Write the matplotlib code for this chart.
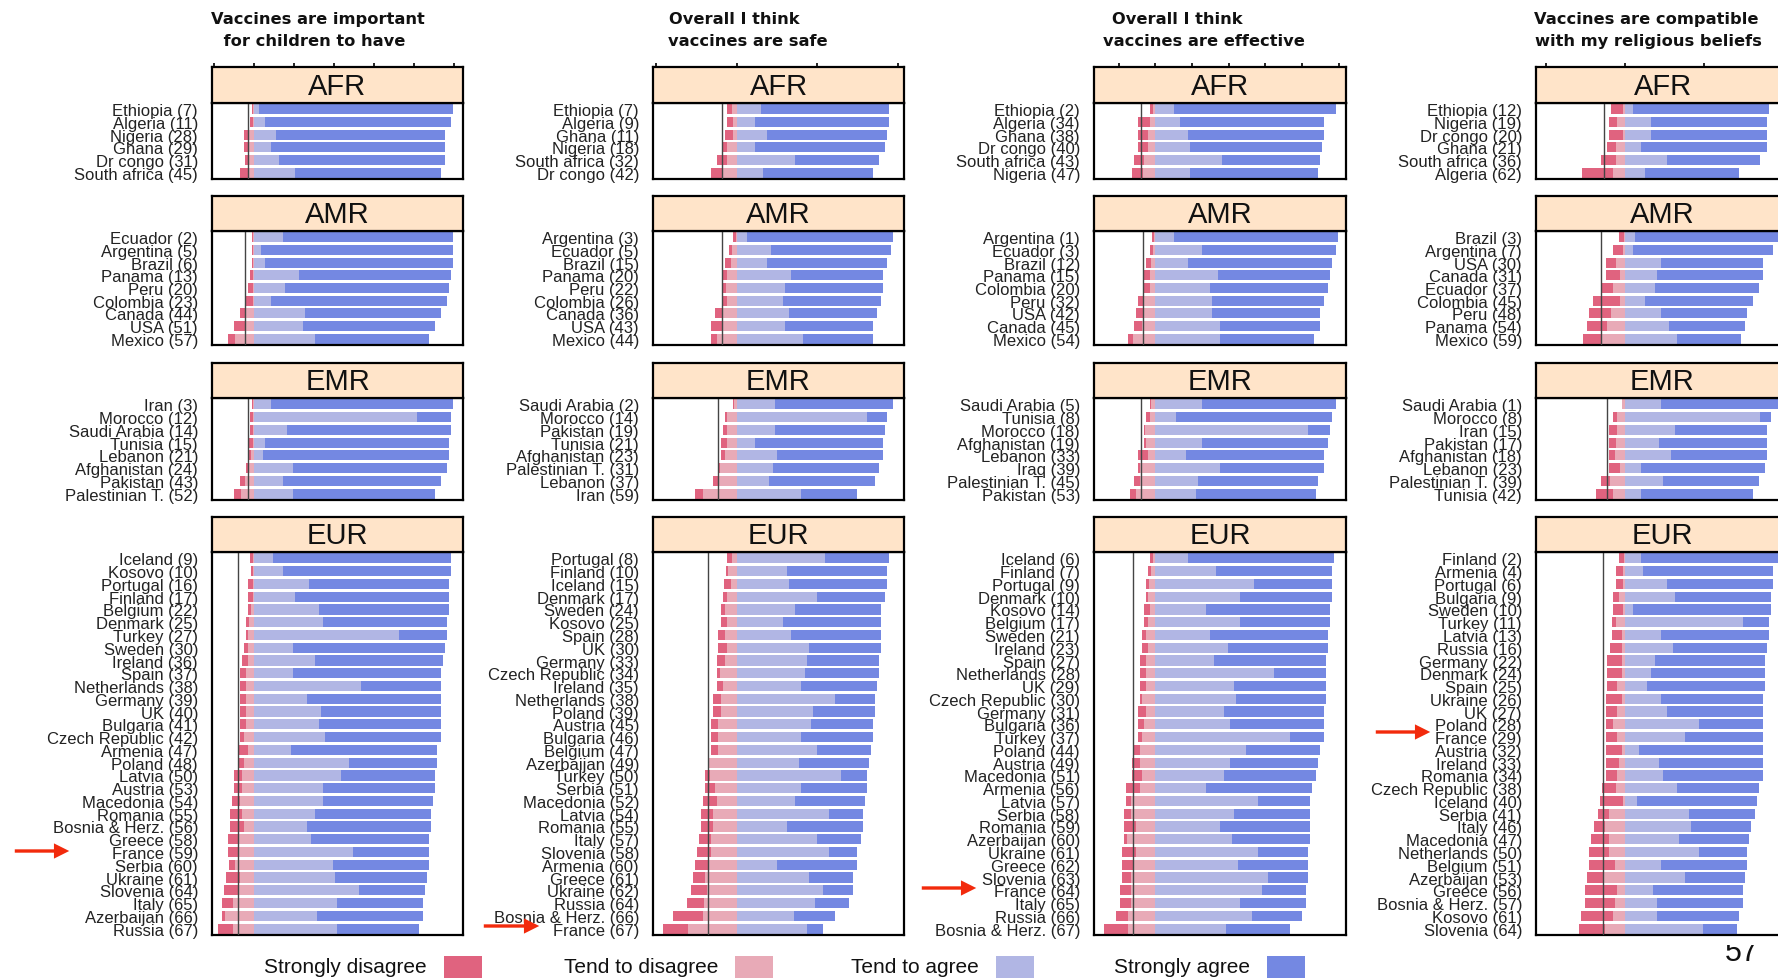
import numpy as np
import matplotlib.pyplot as plt
from matplotlib.patches import Rectangle, FancyArrowPatch

plt.rcParams['font.family'] = ['Liberation Sans', 'DejaVu Sans']

W, H = 1778, 979

questions = [["Vaccines are important", " for children to have"],
             ["Overall I think", "vaccines are safe"],
             ["Overall I think", "vaccines are effective"],
             ["Vaccines are compatible", "with my religious beliefs"]]
regions = ["AFR", "AMR", "EMR", "EUR"]
categories = ["Strongly disagree", "Tend to disagree", "Tend to agree", "Strongly agree"]
colors = ["#E0637F", "#E8AAB7", "#B1B6E4", "#7488E2"]

# ---- Vaccines are important for children ----
c1_afr_lab = ["Ethiopia (7)", "Algeria (11)", "Nigeria (28)", "Ghana (29)", "Dr congo (31)", "South africa (45)"]
c1_afr_sd = [0.6, 1.2, 2.2, 1.7, 2.0, 3.8]
c1_afr_td = [0.3, 0.7, 2.6, 3.1, 2.6, 3.1]
c1_afr_ta = [2.4, 5.3, 11.1, 8.4, 12.4, 20.3]
c1_afr_sa = [97.0, 93.3, 84.5, 87.2, 83.2, 73.3]

c1_amr_lab = ["Ecuador (2)", "Argentina (5)", "Brazil (6)", "Panama (13)", "Peru (20)", "Colombia (23)",
              "Canada (44)", "USA (51)", "Mexico (57)"]
c1_amr_sd = [0.6, 0.6, 0.6, 1.4, 2.3, 3.3, 2.9, 5.9, 3.4]
c1_amr_td = [0.3, 0.3, 0.3, 0.5, 0.6, 0.6, 3.9, 3.9, 9.4]
c1_amr_ta = [14.4, 3.3, 5.3, 22.4, 15.4, 8.4, 25.4, 24.4, 30.4]
c1_amr_sa = [85.0, 96.2, 94.2, 76.2, 82.2, 88.2, 68.2, 66.2, 57.2]

c1_emr_lab = ["Iran (3)", "Morocco (12)", "Saudi Arabia (14)", "Tunisia (15)", "Lebanon (21)",
              "Afghanistan (24)", "Pakistan (43)", "Palestinian T. (52)"]
c1_emr_sd = [0.6, 1.4, 1.4, 2.3, 1.7, 1.7, 2.5, 3.4]
c1_emr_td = [0.3, 0.5, 0.5, 0.6, 1.3, 2.3, 4.3, 6.4]
c1_emr_ta = [8.4, 81.6, 16.3, 5.3, 4.3, 19.3, 14.4, 19.3]
c1_emr_sa = [91.0, 17.0, 82.3, 92.3, 93.3, 77.3, 79.2, 71.3]

c1_eur_lab = ["Iceland (9)", "Kosovo (10)", "Portugal (16)", "Finland (17)", "Belgium (22)", "Denmark (25)",
              "Turkey (27)", "Sweden (30)", "Ireland (36)", "Spain (37)", "Netherlands (38)", "Germany (39)",
              "UK (40)", "Bulgaria (41)", "Czech Republic (42)", "Armenia (47)", "Poland (48)", "Latvia (50)",
              "Austria (53)", "Macedonia (54)", "Romania (55)", "Bosnia & Herz. (56)", "Greece (58)",
              "France (59)", "Serbia (60)", "Ukraine (61)", "Slovenia (64)", "Italy (65)", "Azerbaijan (66)",
              "Russia (67)"]
c1_eur_sd = [1.6, 1.0, 2.3, 2.3, 1.5, 1.4, 1.0, 2.0, 2.9, 3.0, 3.0, 3.0, 3.0, 3.0, 2.0, 5.0, 3.2, 3.7, 3.8,
             3.9, 5.9, 7.0, 4.9, 4.9, 3.3, 6.9, 6.9, 5.2, 1.4, 7.2]
c1_eur_td = [0.3, 0.4, 0.6, 0.6, 1.4, 2.6, 2.9, 2.9, 2.9, 3.8, 3.8, 3.8, 3.8, 3.8, 4.8, 2.9, 4.8, 6.1, 6.0,
             6.9, 5.9, 4.8, 7.9, 7.9, 9.4, 6.9, 7.9, 10.6, 14.4, 10.6]
c1_eur_ta = [9.4, 14.4, 27.4, 20.4, 32.4, 34.4, 72.4, 19.3, 30.4, 19.3, 53.4, 26.3, 33.4, 32.4, 35.4, 18.3,
             47.4, 43.4, 34.4, 34.4, 30.4, 26.3, 28.4, 49.4, 39.4, 40.4, 52.4, 41.4, 31.4, 41.4]
c1_eur_sa = [89.2, 84.2, 70.2, 77.2, 65.2, 62.2, 24.2, 76.3, 64.2, 74.3, 40.2, 67.3, 60.2, 61.2, 58.2, 73.3,
             44.2, 47.2, 56.2, 55.2, 58.2, 62.3, 59.2, 38.2, 48.2, 46.2, 33.2, 43.2, 53.2, 41.2]

# ---- Overall I think vaccines are safe ----
c2_afr_lab = ["Ethiopia (7)", "Algeria (9)", "Ghana (11)", "Nigeria (18)", "South africa (32)", "Dr congo (42)"]
c2_afr_sd = [2.7, 3.7, 5.2, 2.9, 6.2, 6.9]
c2_afr_td = [3.0, 2.0, 2.0, 5.7, 6.1, 9.2]
c2_afr_ta = [15.0, 11.5, 18.8, 11.5, 36.0, 16.3]
c2_afr_sa = [79.9, 83.4, 74.7, 80.9, 52.7, 68.5]

c2_amr_lab = ["Argentina (3)", "Ecuador (5)", "Brazil (15)", "Panama (20)", "Peru (22)", "Colombia (26)",
              "Canada (36)", "USA (43)", "Mexico (44)"]
c2_amr_sd = [1.5, 1.5, 3.6, 2.5, 2.7, 3.1, 4.2, 6.9, 3.8]
c2_amr_td = [0.5, 3.0, 3.6, 6.1, 6.5, 6.1, 9.2, 9.2, 12.3]
c2_amr_ta = [6.3, 21.3, 18.8, 33.9, 30.2, 28.7, 32.7, 30.2, 41.2]
c2_amr_sa = [90.9, 74.7, 74.7, 57.1, 60.8, 61.0, 54.5, 54.6, 43.6]

c2_emr_lab = ["Saudi Arabia (2)", "Morocco (14)", "Pakistan (19)", "Tunisia (21)", "Afghanistan (23)",
              "Palestinian T. (31)", "Lebanon (37)", "Iran (59)"]
c2_emr_sd = [0.5, 1.5, 2.5, 3.8, 2.7, 1.6, 4.1, 4.7]
c2_emr_td = [1.5, 5.7, 6.1, 6.1, 7.2, 10.3, 10.7, 21.1]
c2_emr_ta = [24.0, 81.0, 24.0, 11.5, 25.0, 22.5, 20.4, 39.9]
c2_emr_sa = [73.2, 12.5, 68.4, 79.5, 66.0, 66.2, 65.8, 34.9]

c2_eur_lab = ["Portugal (8)", "Finland (10)", "Iceland (15)", "Denmark (17)", "Sweden (24)", "Kosovo (25)",
              "Spain (28)", "UK (30)", "Germany (33)", "Czech Republic (34)", "Ireland (35)", "Netherlands (38)",
              "Poland (39)", "Austria (45)", "Bulgaria (46)", "Belgium (47)", "Azerbaijan (49)", "Turkey (50)",
              "Serbia (51)", "Macedonia (52)", "Latvia (54)", "Romania (55)", "Italy (57)", "Slovenia (58)",
              "Armenia (60)", "Greece (61)", "Ukraine (62)", "Russia (64)", "Bosnia & Herz. (66)", "France (67)"]
c2_eur_sd = [3.1, 1.4, 4.2, 2.5, 2.7, 3.8, 4.1, 5.2, 5.1, 2.0, 3.7, 4.9, 4.9, 4.8, 4.8, 4.8, 0.3, 3.1, 6.2,
             8.8, 7.5, 7.5, 7.5, 8.7, 8.3, 7.7, 9.9, 10.4, 18.6, 15.9]
c2_eur_td = [3.0, 5.1, 3.6, 6.1, 7.2, 6.1, 7.2, 6.1, 7.2, 10.3, 8.6, 9.9, 9.9, 11.3, 11.3, 11.3, 17.6, 16.5,
             13.4, 12.3, 14.8, 14.8, 16.1, 16.1, 17.5, 19.6, 18.6, 20.6, 21.1, 30.0]
c2_eur_ta = [55.1, 31.2, 32.7, 49.9, 36.0, 28.7, 33.9, 44.9, 43.7, 42.6, 39.9, 61.3, 47.4, 46.2, 39.9, 49.9,
             38.7, 65.0, 39.9, 36.0, 57.2, 31.2, 49.9, 57.2, 25.0, 44.9, 53.6, 48.7, 35.4, 43.7]
c2_eur_sa = [39.8, 62.3, 60.8, 42.5, 53.7, 61.0, 55.8, 44.8, 44.8, 45.9, 47.3, 24.7, 38.6, 38.6, 44.9, 33.6,
             43.6, 16.0, 41.1, 43.8, 21.3, 47.3, 27.4, 17.6, 49.8, 27.4, 18.7, 21.1, 25.7, 9.9]

# ---- Overall I think vaccines are effective ----
c3_afr_lab = ["Ethiopia (2)", "Algeria (34)", "Ghana (38)", "Dr congo (40)", "South africa (43)", "Nigeria (47)"]
c3_afr_sd = [1.5, 6.7, 5.5, 5.5, 5.4, 6.4]
c3_afr_td = [1.5, 3.0, 3.9, 3.9, 6.3, 6.6]
c3_afr_ta = [10.1, 13.4, 17.9, 18.8, 36.5, 18.8]
c3_afr_sa = [88.7, 78.7, 74.2, 72.2, 53.2, 70.0]

c3_amr_lab = ["Argentina (1)", "Ecuador (3)", "Brazil (12)", "Panama (15)", "Colombia (20)", "Peru (32)",
              "USA (42)", "Canada (45)", "Mexico (54)"]
c3_amr_sd = [1.0, 1.5, 2.6, 3.3, 3.6, 2.8, 4.0, 4.2, 3.1]
c3_amr_td = [0.9, 1.5, 2.6, 3.0, 3.0, 6.6, 6.6, 7.5, 12.1]
c3_amr_ta = [10.1, 25.5, 17.9, 34.3, 29.7, 30.8, 30.8, 35.2, 35.2]
c3_amr_sa = [89.6, 73.1, 78.6, 61.1, 64.6, 61.3, 59.1, 54.7, 51.4]

c3_emr_lab = ["Saudi Arabia (5)", "Tunisia (8)", "Morocco (18)", "Afghanistan (19)", "Lebanon (33)",
              "Iraq (39)", "Palestinian T. (45)", "Pakistan (53)"]
c3_emr_sd = [0.4, 2.2, 0.6, 1.1, 5.4, 1.2, 3.2, 3.4]
c3_emr_td = [2.6, 3.0, 5.7, 5.2, 4.3, 8.5, 8.5, 10.5]
c3_emr_ta = [25.2, 11.2, 83.4, 25.2, 16.6, 35.2, 23.4, 22.1]
c3_emr_sa = [73.4, 85.3, 12.0, 69.1, 75.5, 56.9, 65.4, 65.6]

c3_eur_lab = ["Iceland (6)", "Finland (7)", "Portugal (9)", "Denmark (10)", "Kosovo (14)", "Belgium (17)",
              "Sweden (21)", "Ireland (23)", "Spain (27)", "Netherlands (28)", "UK (29)", "Czech Republic (30)",
              "Germany (31)", "Bulgaria (36)", "Turkey (37)", "Poland (44)", "Austria (49)", "Macedonia (51)",
              "Armenia (56)", "Latvia (57)", "Serbia (58)", "Romania (59)", "Azerbaijan (60)", "Ukraine (61)",
              "Greece (62)", "Slovenia (63)", "France (64)", "Italy (65)", "Russia (66)", "Bosnia & Herz. (67)"]
c3_eur_sd = [1.5, 1.5, 1.5, 1.3, 3.3, 2.4, 2.1, 3.4, 3.3, 3.3, 3.3, 1.1, 4.3, 3.2, 2.1, 3.2, 4.0, 5.1, 7.6,
             2.9, 4.0, 6.4, 1.7, 7.5, 6.4, 5.1, 6.2, 6.2, 6.5, 13.1]
c3_eur_td = [1.5, 2.6, 3.7, 3.9, 3.0, 3.9, 5.2, 3.9, 5.2, 5.2, 5.2, 7.4, 5.2, 6.3, 7.4, 8.5, 8.5, 7.4, 8.5,
             13.2, 13.2, 10.8, 15.5, 10.8, 11.9, 13.2, 13.2, 13.2, 15.0, 15.0]
c3_eur_ta = [17.9, 33.0, 53.7, 46.1, 27.5, 46.1, 29.7, 39.7, 31.9, 64.6, 43.0, 43.9, 37.5, 40.6, 73.4, 49.4,
             40.6, 37.5, 27.5, 56.1, 43.0, 35.2, 41.7, 56.1, 45.2, 61.5, 58.3, 46.1, 52.6, 38.5]
c3_eur_sa = [79.6, 63.5, 42.8, 50.4, 67.9, 49.3, 64.6, 54.6, 61.3, 28.6, 50.2, 49.3, 54.6, 51.5, 18.7, 40.5,
             48.2, 50.2, 58.0, 28.4, 41.5, 49.3, 42.8, 27.3, 38.2, 21.9, 24.0, 36.2, 27.5, 34.9]

# ---- Vaccines are compatible with my religious beliefs ----
c4_afr_lab = ["Ethiopia (12)", "Nigeria (19)", "Dr congo (20)", "Ghana (21)", "South africa (36)", "Algeria (62)"]
c4_afr_sd = [7.8, 5.0, 8.8, 5.5, 9.1, 20.0]
c4_afr_td = [1.1, 4.9, 1.1, 5.7, 5.7, 7.4]
c4_afr_ta = [5.3, 16.5, 16.5, 10.3, 26.8, 12.9]
c4_afr_sa = [86.1, 73.6, 73.6, 79.8, 58.6, 59.5]

c4_amr_lab = ["Brazil (3)", "Argentina (7)", "USA (30)", "Canada (31)", "Ecuador (37)", "Colombia (45)",
              "Peru (48)", "Panama (54)", "Mexico (59)"]
c4_amr_sd = [3.1, 6.1, 6.5, 9.0, 7.8, 16.8, 13.7, 12.9, 11.0]
c4_amr_td = [0.3, 1.1, 5.7, 3.2, 7.4, 3.2, 8.9, 11.2, 15.4]
c4_amr_ta = [6.5, 5.3, 23.0, 20.5, 19.2, 12.9, 23.0, 28.1, 33.3]
c4_amr_sa = [91.0, 88.6, 64.6, 67.1, 65.8, 68.3, 54.4, 48.1, 40.5]

c4_emr_lab = ["Saudi Arabia (1)", "Morocco (8)", "Iran (15)", "Pakistan (17)", "Afghanistan (18)",
              "Lebanon (23)", "Palestinian T. (39)", "Tunisia (42)"]
c4_emr_sd = [0.6, 2.3, 5.0, 4.2, 3.8, 6.7, 5.3, 11.2]
c4_emr_td = [1.5, 4.9, 4.9, 5.7, 6.1, 3.2, 9.5, 7.4]
c4_emr_ta = [23.0, 85.4, 31.9, 21.7, 29.5, 10.3, 24.3, 10.3]
c4_emr_sa = [74.0, 7.4, 58.2, 68.4, 60.6, 78.5, 60.7, 70.9]

c4_eur_lab = ["Finland (2)", "Armenia (4)", "Portugal (6)", "Bulgaria (9)", "Sweden (10)", "Turkey (11)",
              "Latvia (13)", "Russia (16)", "Germany (22)", "Denmark (24)", "Spain (25)", "Ukraine (26)",
              "UK (27)", "Poland (28)", "France (29)", "Austria (32)", "Ireland (33)", "Romania (34)",
              "Czech Republic (38)", "Iceland (40)", "Serbia (41)", "Italy (46)", "Macedonia (47)",
              "Netherlands (50)", "Belgium (51)", "Azerbaijan (53)", "Greece (56)", "Bosnia & Herz. (57)",
              "Kosovo (61)", "Slovenia (64)"]
c4_eur_sd = [3.3, 4.8, 4.8, 3.6, 6.1, 2.5, 6.3, 7.6, 8.9, 8.9, 6.1, 10.1, 7.3, 4.8, 7.3, 10.1, 8.6, 7.3, 8.4,
             14.9, 7.4, 7.4, 11.4, 12.7, 16.5, 10.1, 20.2, 19.0, 20.2, 16.5]
c4_eur_td = [0.3, 1.1, 1.1, 3.6, 1.1, 5.9, 2.1, 2.1, 2.1, 2.1, 4.9, 2.1, 4.9, 7.4, 4.9, 2.1, 3.6, 4.9, 5.9,
             1.1, 9.9, 12.4, 9.9, 9.9, 6.1, 13.7, 4.9, 6.1, 7.4, 12.4]
c4_eur_ta = [10.3, 11.6, 26.8, 31.9, 5.3, 74.9, 23.0, 30.6, 19.2, 16.7, 14.3, 23.0, 26.8, 47.0, 38.4, 9.1,
             21.7, 24.3, 33.3, 7.8, 40.7, 42.0, 34.4, 47.0, 23.0, 38.4, 17.9, 20.5, 20.5, 49.6]
c4_eur_sa = [87.0, 82.3, 67.1, 60.9, 87.5, 16.5, 68.4, 59.5, 69.6, 72.1, 74.5, 64.6, 60.8, 40.6, 49.2, 78.5,
             65.9, 63.3, 51.7, 76.0, 41.8, 38.0, 44.3, 30.4, 54.4, 37.8, 57.0, 54.4, 51.9, 21.5]

# reference lines (per column, per region)
c1_ref = [-3.0, -4.3, -3.1, -8.1]
c2_ref = [-9.2, -9.2, -11.9, -17.9]
c3_ref = [-7.9, -6.6, -7.9, -12.1]
c4_ref = [-13.3, -15.4, -11.0, -14.1]

panels = [
    [(c1_afr_lab, c1_afr_sd, c1_afr_td, c1_afr_ta, c1_afr_sa),
     (c1_amr_lab, c1_amr_sd, c1_amr_td, c1_amr_ta, c1_amr_sa),
     (c1_emr_lab, c1_emr_sd, c1_emr_td, c1_emr_ta, c1_emr_sa),
     (c1_eur_lab, c1_eur_sd, c1_eur_td, c1_eur_ta, c1_eur_sa)],
    [(c2_afr_lab, c2_afr_sd, c2_afr_td, c2_afr_ta, c2_afr_sa),
     (c2_amr_lab, c2_amr_sd, c2_amr_td, c2_amr_ta, c2_amr_sa),
     (c2_emr_lab, c2_emr_sd, c2_emr_td, c2_emr_ta, c2_emr_sa),
     (c2_eur_lab, c2_eur_sd, c2_eur_td, c2_eur_ta, c2_eur_sa)],
    [(c3_afr_lab, c3_afr_sd, c3_afr_td, c3_afr_ta, c3_afr_sa),
     (c3_amr_lab, c3_amr_sd, c3_amr_td, c3_amr_ta, c3_amr_sa),
     (c3_emr_lab, c3_emr_sd, c3_emr_td, c3_emr_ta, c3_emr_sa),
     (c3_eur_lab, c3_eur_sd, c3_eur_td, c3_eur_ta, c3_eur_sa)],
    [(c4_afr_lab, c4_afr_sd, c4_afr_td, c4_afr_ta, c4_afr_sa),
     (c4_amr_lab, c4_amr_sd, c4_amr_td, c4_amr_ta, c4_amr_sa),
     (c4_emr_lab, c4_emr_sd, c4_emr_td, c4_emr_ta, c4_emr_sa),
     (c4_eur_lab, c4_eur_sd, c4_eur_td, c4_eur_ta, c4_eur_sa)],
]
refs = [c1_ref, c2_ref, c3_ref, c4_ref]

# layout (pixels)
xlims = [(-21, 104.5), (-52, 104), (-33.5, 104), (-56.3, 104)]
xticks = [[-20, 0, 20, 40, 60, 80, 100], [-50, 0, 50, 100], [-20, 0, 20, 40, 60, 80, 100], [-50, 0, 50, 100]]
cols_px = [(212, 463), (653, 904), (1094, 1346), (1536, 1789)]
rows_px = [(68, 104, 180), (197, 232, 346), (364, 399, 501), (518, 553, 936)]
title_px = [(211, 218), (669, 668), (1112, 1103), (1534, 1535)]


def fbox(x0, x1, y0, y1):
    return [x0 / W, 1 - y1 / H, (x1 - x0) / W, (y1 - y0) / H]


fig = plt.figure(figsize=(W / 100, H / 100), dpi=100)

for ci in range(4):
    x0, x1 = cols_px[ci]
    for ri in range(4):
        lab, sd, td, ta, sa = [np.array(v) if i else v for i, v in enumerate(panels[ci][ri])]
        st, pt, pb = rows_px[ri]
        ax = fig.add_axes(fbox(x0, x1, pt, pb))
        y = np.arange(len(lab))
        ax.barh(y, sd, left=-(sd + td), height=0.8, color=colors[0], lw=0)
        ax.barh(y, td, left=-td, height=0.8, color=colors[1], lw=0)
        ax.barh(y, ta, left=0, height=0.8, color=colors[2], lw=0)
        ax.barh(y, sa, left=ta, height=0.8, color=colors[3], lw=0)
        ax.axvline(refs[ci][ri], color='#444444', lw=1.0, zorder=3)
        ax.set_xlim(xlims[ci])
        ax.set_ylim(len(lab) - 0.5, -0.5)
        ax.set_xticks([])
        ax.set_yticks(y)
        ax.set_yticklabels(lab, fontsize=12, color='#222222')
        ax.tick_params(axis='y', length=0, pad=10)
        for s in ax.spines.values():
            s.set_linewidth(1.6)

        sax = fig.add_axes(fbox(x0, x1, st, pt))
        sax.set_facecolor('#FFE4C9')
        sax.set_xlim(xlims[ci])
        sax.set_yticks([])
        if ri == 0:
            sax.set_xticks(xticks[ci])
            sax.tick_params(axis='x', top=True, bottom=False, labeltop=False, labelbottom=False,
                            direction='out', length=3, width=1.2)
        else:
            sax.set_xticks([])
        for s in sax.spines.values():
            s.set_linewidth(1.6)
        sax.text(0.5, 0.48, regions[ri], transform=sax.transAxes, ha='center', va='center',
                 fontsize=21, color='#111111')

    # column title
    tx1, tx2 = title_px[ci]
    fig.text(tx1 / W, 1 - 24 / H, questions[ci][0], fontsize=11.7, fontweight='bold',
             family='DejaVu Sans', va='baseline', ha='left', color='#111111')
    fig.text(tx2 / W, 1 - 46 / H, questions[ci][1], fontsize=11.7, fontweight='bold',
             family='DejaVu Sans', va='baseline', ha='left', color='#111111')

# legend
sw_x = [444, 735, 996, 1267]
for k in range(4):
    fig.add_artist(Rectangle((sw_x[k] / W, 1 - 983 / H), 38 / W, 26 / H, transform=fig.transFigure,
                             facecolor=colors[k], edgecolor='none'))
    fig.text((sw_x[k] - 17) / W, 1 - 968 / H, categories[k], fontsize=15, ha='right', va='center',
             color='#111111')

# red arrows
for ax0, ax1, ay in [(12, 72, 852), (481, 542, 927), (919, 979, 889), (1373, 1433, 733)]:
    fig.add_artist(FancyArrowPatch((ax0 / W, 1 - ay / H), (ax1 / W, 1 - ay / H), transform=fig.transFigure,
                                   arrowstyle='simple,head_length=1.0,head_width=1.0,tail_width=0.22',
                                   mutation_scale=11, color='#F22A0C', lw=0))

# page number, top partly hidden
fig.text(1725 / W, 1 - 961 / H, "57", fontsize=22, ha='left', va='baseline', color='#111111')
fig.add_artist(Rectangle((1715 / W, 1 - 946 / H), 60 / W, 8 / H, transform=fig.transFigure,
                         facecolor='white', edgecolor='none', zorder=10))

fig.savefig('out.png', dpi=100)
